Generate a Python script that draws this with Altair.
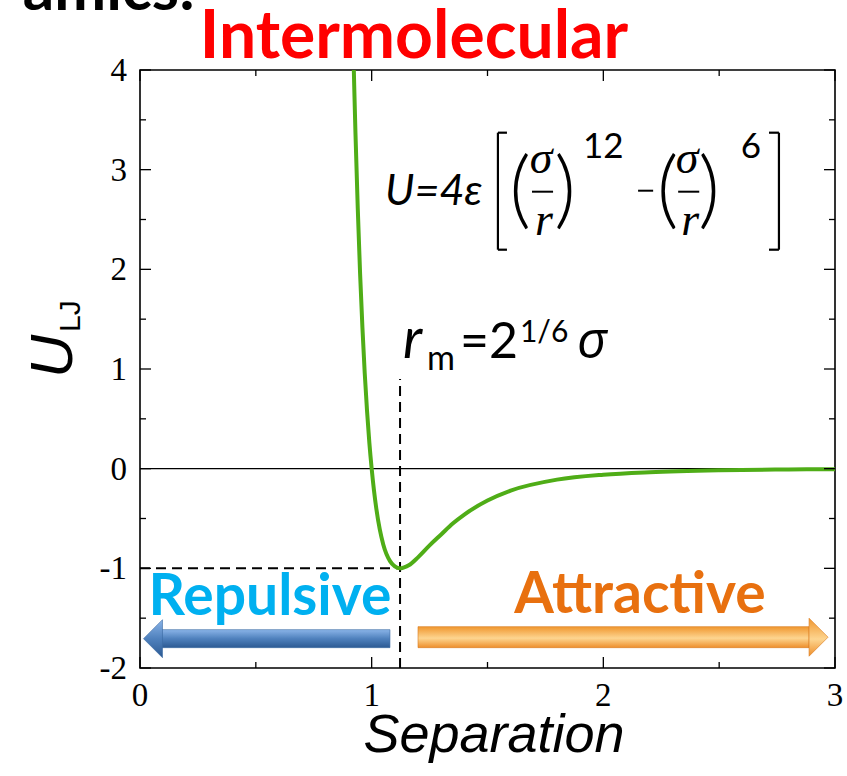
import altair as alt
import pandas as pd

# ---------------- data ----------------
r_vals = [0.92, 0.925, 0.93, 0.94, 0.95, 0.96, 0.97, 0.98, 0.99, 1.0, 1.01, 1.02, 1.035, 1.05,
          1.08, 1.10, 1.1225, 1.14, 1.16, 1.2, 1.25, 1.3, 1.35, 1.4, 1.5, 1.6, 1.8, 2.0,
          2.2, 2.5, 2.8, 3.0]
u_vals = [4.28, 3.81, 3.37, 2.61, 1.96, 1.42, 0.96, 0.58, 0.26, 0.0, -0.22, -0.40, -0.61, -0.76,
          -0.93, -0.98, -1.0, -0.99, -0.97, -0.89, -0.77, -0.66, -0.55, -0.46, -0.32, -0.22,
          -0.11, -0.06, -0.035, -0.016, -0.008, -0.005]

x_major = [0, 1, 2, 3]
x_labels = ["0", "1", "2", "3"]
x_minor = [0.5, 1.5, 2.5]
y_major = [-2, -1, 0, 1, 2, 3, 4]
y_labels = ["-2", "-1", "0", "1", "2", "3", "4"]
y_minor = [-1.5, -0.5, 0.5, 1.5, 2.5, 3.5]

r_min = 1.1225   # 2^(1/6) sigma
u_min = -1.0
r_min_top = 0.9

W, H = 695, 598

xs = alt.Scale(domain=[0, 3], nice=False, zero=False)
ys = alt.Scale(domain=[-2, 4], nice=False, zero=False)


def X(f):
    return alt.X(f, type="quantitative", scale=xs, axis=None)


def Y(f):
    return alt.Y(f, type="quantitative", scale=ys, axis=None)


layers = []

# zero line
zero = alt.Chart(pd.DataFrame({"x": [0], "x2": [3], "y": [0]})).mark_rule(
    color="black", strokeWidth=1.2).encode(x=X("x"), x2="x2", y=Y("y"))
layers.append(zero)

# dashed guides
dv = alt.Chart(pd.DataFrame({"x": [r_min], "y": [-2], "y2": [r_min_top]})).mark_rule(
    color="black", strokeWidth=2, strokeDash=[10, 6]).encode(x=X("x"), y=Y("y"), y2="y2")
dh = alt.Chart(pd.DataFrame({"x": [0], "x2": [r_min], "y": [u_min]})).mark_rule(
    color="black", strokeWidth=2, strokeDash=[10, 6]).encode(x=X("x"), x2="x2", y=Y("y"))
layers += [dv, dh]

# curve
curve = alt.Chart(pd.DataFrame({"r": r_vals, "u": u_vals})).mark_line(
    color="#4fad17", strokeWidth=4, clip=True, interpolate="monotone").encode(
    x=X("r"), y=Y("u"))
layers.append(curve)

# ticks (inward, on all four sides)
def xticks(vals, length):
    d = pd.DataFrame({"x": vals})
    b = alt.Chart(d).mark_rule(color="black", strokeWidth=1.3).encode(
        x=X("x"), y=alt.value(H), y2=alt.value(H - length))
    t = alt.Chart(d).mark_rule(color="black", strokeWidth=1.3).encode(
        x=X("x"), y=alt.value(0), y2=alt.value(length))
    return [b, t]


def yticks(vals, length):
    d = pd.DataFrame({"y": vals})
    l = alt.Chart(d).mark_rule(color="black", strokeWidth=1.3).encode(
        y=Y("y"), x=alt.value(0), x2=alt.value(length))
    r = alt.Chart(d).mark_rule(color="black", strokeWidth=1.3).encode(
        y=Y("y"), x=alt.value(W), x2=alt.value(W - length))
    return [l, r]


layers += xticks(x_major, 11) + xticks(x_minor, 6) + yticks(y_major, 11) + yticks(y_minor, 6)

# tick labels
xl = alt.Chart(pd.DataFrame({"x": x_major, "t": x_labels})).mark_text(
    font="Liberation Serif", fontSize=33, color="black", align="center", baseline="alphabetic").encode(
    x=X("x"), y=alt.value(H + 38), text="t:N")
yl = alt.Chart(pd.DataFrame({"y": y_major, "t": y_labels})).mark_text(
    font="Liberation Serif", fontSize=33, color="black", align="right", baseline="alphabetic",
    dy=11).encode(y=Y("y"), x=alt.value(-13), text="t:N")
layers += [xl, yl]

# arrows
blue = alt.Gradient(gradient="linear", x1=0, x2=0, y1=0, y2=1,
                    stops=[alt.GradientStop(color="#8ab4e8", offset=0),
                           alt.GradientStop(color="#4f81bd", offset=0.5),
                           alt.GradientStop(color="#2c5a93", offset=1)])
orange = alt.Gradient(gradient="linear", x1=0, x2=0, y1=0, y2=1,
                      stops=[alt.GradientStop(color="#f0962e", offset=0),
                             alt.GradientStop(color="#fdd590", offset=0.55),
                             alt.GradientStop(color="#ee8f2c", offset=1)])

rep_body = alt.Chart(pd.DataFrame({"x": [0.0906], "x2": [1.079], "y": [-1.615], "y2": [-1.796]})).mark_rect(
    fill=blue, stroke="#3b6aa3", strokeWidth=0.6).encode(x=X("x"), x2="x2", y=Y("y"), y2="y2")
rep_head = alt.Chart(pd.DataFrame({"x": [0.0561], "y": [-1.706]})).mark_point(
    shape="M -0.5 0 L 0.5 -1 L 0.5 1 Z", size=1444, filled=True, fill=blue, opacity=1,
    stroke="#3b6aa3", strokeWidth=0.6).encode(x=X("x"), y=Y("y"))
att_body = alt.Chart(pd.DataFrame({"x": [1.200], "x2": [2.888], "y": [-1.585], "y2": [-1.796]})).mark_rect(
    fill=orange, stroke="#d9791c", strokeWidth=0.6).encode(x=X("x"), x2="x2", y=Y("y"), y2="y2")
att_head = alt.Chart(pd.DataFrame({"x": [2.929], "y": [-1.691]})).mark_point(
    shape="M 0.5 0 L -0.5 -1 L -0.5 1 Z", size=1444, filled=True, fill=orange, opacity=1,
    stroke="#d9791c", strokeWidth=0.6).encode(x=X("x"), y=Y("y"))
layers += [rep_body, rep_head, att_body, att_head]


# text helpers
def txt(label, x, y, size, font="Lato", style="normal", weight="normal", color="black",
        align="left", angle=0, px=False, baseline="alphabetic"):
    d = pd.DataFrame({"label": [label], "x": [x], "y": [y]})
    m = alt.Chart(d).mark_text(fontSize=size, font=font, fontStyle=style, fontWeight=weight,
                               color=color, align=align, baseline=baseline, angle=angle)
    if px:
        return m.encode(text="label:N", x=alt.value(x), y=alt.value(y))
    return m.encode(text="label:N", x=X("x"), y=Y("y"))


def rule(x1, x2, y1, y2, w=2.2):
    d = pd.DataFrame({"x": [x1], "x2": [x2], "y": [y1], "y2": [y2]})
    return alt.Chart(d).mark_rule(color="black", strokeWidth=w).encode(
        x=X("x"), x2="x2", y=Y("y"), y2="y2")


# region labels
layers.append(txt("Repulsive", 0.561, -1.465, 57, weight="bold", color="#00b0f0", align="center"))
layers.append(txt("Attractive", 2.158, -1.445, 57, weight="bold", color="#e8700f", align="center"))

# r_m label
layers.append(txt("r", 1.135, 1.114, 56, style="italic"))
layers.append(txt("m", 1.239, 0.993, 34))
layers.append(txt("=2", 1.381, 1.114, 50))
layers.append(txt("1/6", 1.640, 1.274, 30))
layers.append(txt("σ", 1.886, 1.114, 52, font="Open Sans", style="italic"))

# formula
layers.append(txt("U=4ε", 1.0575, 2.649, 43, font="Lato, Open Sans", style="italic"))
# brackets
layers.append(rule(1.545, 1.545, 3.371, 2.197))
layers.append(rule(1.545, 1.584, 3.371, 3.371))
layers.append(rule(1.545, 1.584, 2.197, 2.197))
layers.append(rule(2.758, 2.758, 3.371, 2.197))
layers.append(rule(2.715, 2.758, 3.371, 3.371))
layers.append(rule(2.715, 2.758, 2.197, 2.197))
# parentheses
for px_ in [1.641, 2.277]:
    layers.append(txt("(", px_, 2.518, 84, font="Lato", weight=300, align="center"))
for px_ in [1.835, 2.456]:
    layers.append(txt(")", px_, 2.518, 84, font="Lato", weight=300, align="center"))
# fractions
for cx, bx1, bx2 in [(1.731, 1.692, 1.783), (2.362, 2.323, 2.414)]:
    layers.append(txt("σ", cx, 2.970, 46, font="Liberation Serif", style="italic", align="center"))
    layers.append(rule(bx1, bx2, 2.779, 2.779, 2))
    layers.append(txt("r", cx + 0.013, 2.348, 46, font="Liberation Serif", style="italic", align="center"))
# exponents and minus
layers.append(txt("12", 2.000, 3.120, 35, align="center"))
layers.append(rule(2.150, 2.215, 2.789, 2.789, 2))
layers.append(txt("6", 2.637, 3.120, 35, align="center"))

# axis titles (pixel positions relative to the plot area)
layers.append(txt("Separation", 354, 682, 54, font="Liberation Sans", style="italic",
                  align="center", px=True))
layers.append(txt("U", -68, 308, 60, font="Liberation Sans", style="italic", angle=270, px=True))
layers.append(txt("LJ", -60, 262, 30, font="Liberation Sans", angle=270, px=True))

# title and cropped heading
layers.append(txt("Intermolecular", 274, -12, 66, weight="bold", color="#ff0000",
                  align="center", px=True))
layers.append(txt("amics:", 55, -60, 62, weight="bold", color="black", align="right", px=True))

chart = alt.layer(*layers).properties(
    width=W, height=H,
    padding={"left": 140, "top": 70, "right": 12, "bottom": 108},
    autosize=alt.AutoSizeParams(type="none"),
    background="white",
).configure_view(stroke="black", strokeWidth=1.6)

chart.save("out.html", embed_options={"renderer": "svg", "actions": False})
